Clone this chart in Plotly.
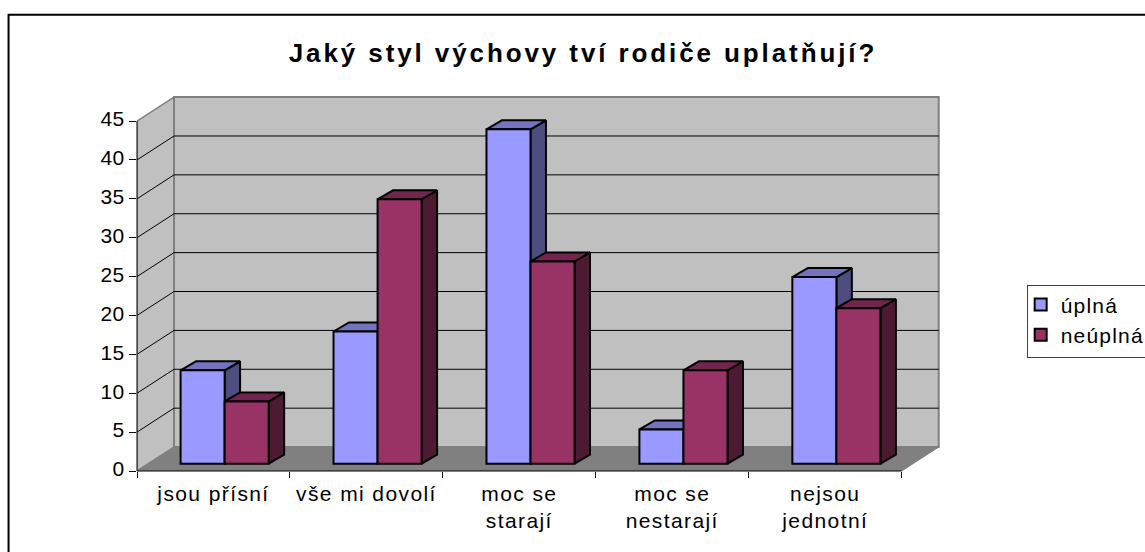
import plotly.graph_objects as go

# Data
categories = ["jsou přísní", "vše mi dovolí", "moc se<br>starají", "moc se<br>nestarají", "nejsou<br>jednotní"]
uplna = [12, 17, 43, 4.4, 24]
neuplna = [8, 34, 26, 12, 20]
y_ticks = [0, 5, 10, 15, 20, 25, 30, 35, 40, 45]
title = "Jaký styl výchovy tví rodiče uplatňují?"

# Oblique-projection constants, in axis units
WALL_DX, WALL_DY = 0.242, 3.08
BAR_W = 0.288
BAR_SHIFT = 0.073
BAR_BASE = 0.94
DEPTH_DX, DEPTH_DY = 0.101, 1.16
X_MAX, Y_MAX = 5.27, 48.48
N = len(categories)
Y_TOP = y_ticks[-1]

FRONT = ["#9999FF", "#993366"]
TOP = ["#7373BF", "#73264D"]
SIDE = ["#4D4D80", "#4D1A33"]


def poly(pts):
    return "M" + "L".join(f"{x},{y}" for x, y in pts) + "Z"


shapes = [
    # left wall
    dict(type="path", layer="below", xref="x", yref="y", fillcolor="#C0C0C0",
         line=dict(color="#808080", width=1.5),
         path=poly([(0, 0), (0, Y_TOP), (WALL_DX, Y_TOP + WALL_DY), (WALL_DX, WALL_DY)])),
    # back wall
    dict(type="path", layer="below", xref="x", yref="y", fillcolor="#C0C0C0",
         line=dict(color="#808080", width=2),
         path=poly([(WALL_DX, WALL_DY), (WALL_DX, Y_TOP + WALL_DY),
                    (N + WALL_DX, Y_TOP + WALL_DY), (N + WALL_DX, WALL_DY)])),
    # floor
    dict(type="path", layer="below", xref="x", yref="y", fillcolor="#808080",
         line=dict(color="#808080", width=1),
         path=poly([(0, 0), (N, 0), (N + WALL_DX, WALL_DY), (WALL_DX, WALL_DY)])),
]
for v in y_ticks[1:-1]:
    shapes.append(dict(type="line", layer="below", xref="x", yref="y", x0=0, y0=v,
                       x1=WALL_DX, y1=v + WALL_DY, line=dict(color="#000000", width=1)))
    shapes.append(dict(type="line", layer="below", xref="x", yref="y", x0=WALL_DX, y0=v + WALL_DY,
                       x1=N + WALL_DX, y1=v + WALL_DY, line=dict(color="#000000", width=1)))
# axis lines and chart frame (the frame runs off the picture on the right and bottom)
shapes += [
    dict(type="line", xref="x", yref="paper", x0=0, x1=N, y0=0, y1=0, line=dict(color="#000000", width=1)),
    dict(type="line", xref="paper", yref="y", x0=0, x1=0, y0=0, y1=Y_TOP, line=dict(color="#000000", width=1)),
    dict(type="path", xref="paper", yref="paper", line=dict(color="#000000", width=2),
         path=poly([(-128.5 / 806.3, -0.3), (-128.5 / 806.3, 456.6 / 377.2),
                    (1.4, 456.6 / 377.2), (1.4, -0.3)])),
]

fig = go.Figure()

# Side and top faces: primary axes, painted below the front faces
for idx, vals in enumerate([uplna, neuplna]):
    for i, v in enumerate(vals):
        x0 = i + 0.5 + BAR_SHIFT + (idx - 1) * BAR_W
        x1 = x0 + BAR_W
        yt = BAR_BASE + v
        side = [(x1, BAR_BASE), (x1 + DEPTH_DX, BAR_BASE + DEPTH_DY),
                (x1 + DEPTH_DX, yt + DEPTH_DY), (x1, yt), (x1, BAR_BASE)]
        top = [(x0, yt), (x1, yt), (x1 + DEPTH_DX, yt + DEPTH_DY),
               (x0 + DEPTH_DX, yt + DEPTH_DY), (x0, yt)]
        for pts, col in ((side, SIDE[idx]), (top, TOP[idx])):
            fig.add_trace(go.Scatter(x=[p[0] for p in pts], y=[p[1] for p in pts],
                                     mode="lines", fill="toself", fillcolor=col,
                                     line=dict(color="#000000", width=2),
                                     showlegend=False, hoverinfo="skip",
                                     xaxis="x", yaxis="y"))

# Front faces: bars on an overlaid pair of axes
for idx, (name, vals) in enumerate([("úplná", uplna), ("neúplná", neuplna)]):
    fig.add_trace(go.Bar(name=name, x=[i + 0.5 + BAR_SHIFT for i in range(N)], y=vals,
                         base=BAR_BASE, width=BAR_W, offset=(idx - 1) * BAR_W,
                         marker=dict(color=FRONT[idx], line=dict(color="#000000", width=2)),
                         xaxis="x2", yaxis="y2"))

fig.update_layout(
    width=1145, height=552,
    margin=dict(l=137, r=201.7, t=93.6, b=81.3, autoexpand=False),
    paper_bgcolor="#FFFFFF", plot_bgcolor="rgba(0,0,0,0)",
    barmode="overlay",
    font=dict(family="Liberation Sans, Arial, sans-serif", size=21, color="#000000"),
    title=dict(text=f"<b>{title}</b>", x=583 / 1145, xanchor="center", y=1 - 53 / 552, yanchor="middle",
               font=dict(size=26, color="#000000")),
    xaxis=dict(range=[0, X_MAX], showgrid=False, zeroline=False, showline=False,
               tickmode="array", tickvals=[i + 0.5 for i in range(N)], ticktext=categories,
               ticks="", tickfont=dict(size=21), tickangle=0, automargin=False, ticklabelstandoff=8,
               minor=dict(tickmode="array", tickvals=list(range(N + 1)), ticks="outside",
                          ticklen=6, tickwidth=1, tickcolor="#000000", showgrid=False)),
    yaxis=dict(range=[0, Y_MAX], showgrid=False, zeroline=False, showline=False,
               tickmode="array", tickvals=y_ticks, ticks="outside", ticklen=7,
               tickwidth=1, tickcolor="#000000", tickfont=dict(size=21), automargin=False,
               ticklabelshift=-2),
    xaxis2=dict(range=[0, X_MAX], overlaying="x", visible=False),
    yaxis2=dict(range=[0, Y_MAX], overlaying="y", visible=False),
    legend=dict(x=(1027 - 137) / 806.3, xanchor="left", y=(470.7 - 285) / 377.2, yanchor="top",
                bgcolor="#FFFFFF", bordercolor="#404040", borderwidth=1,
                font=dict(size=21), itemclick=False, itemdoubleclick=False),
    shapes=shapes,
    showlegend=True,
)

post = """
document.body.style.margin='0';
var s=document.createElement('style');
s.textContent='.xtick text{letter-spacing:1.4px}.ytick text{letter-spacing:.5px}.legendtext{letter-spacing:1.2px}.gtitle{letter-spacing:2.9px}.legend .groups{transform:translate(-7px,-2px)}';
document.head.appendChild(s);
"""
fig.write_html("out.html", post_script=post, config=dict(displayModeBar=False))
